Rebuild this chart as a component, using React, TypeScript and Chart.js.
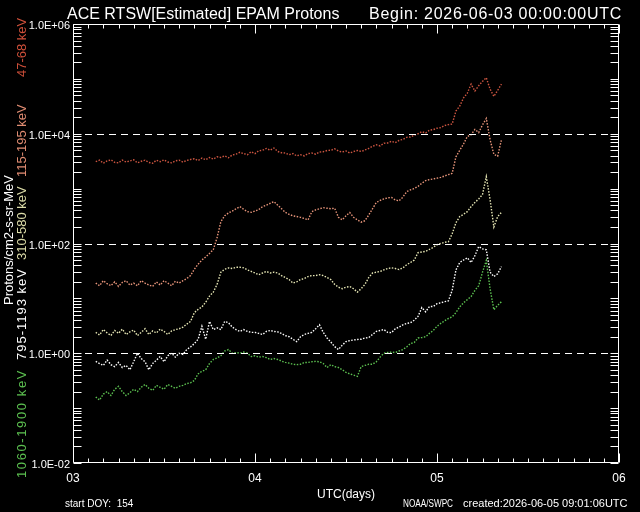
import React, { useEffect, useRef } from "react";
import { Chart, registerables } from "chart.js";

Chart.register(...registerables);

// Time axis: hours since 2026-06-03 00:00 UTC
const hours = [
  3, 3.5, 4, 4.5, 5, 5.5, 6, 6.5, 7, 7.5, 8, 8.5, 9, 9.5, 10, 10.5, 11, 11.5, 12, 12.5, 13, 13.5,
  14, 14.5, 15, 15.5, 16, 16.5, 17, 17.5, 18, 18.5, 19, 19.5, 20, 20.5, 21, 21.5, 22, 22.5,
  23, 23.5, 24, 24.5, 25, 25.5, 26, 26.5, 27, 27.5, 28, 28.5, 29, 29.5, 30, 30.5,
  31, 31.5, 32, 32.5, 33, 33.5, 34, 34.5, 35, 35.5, 36, 36.5, 37, 37.5, 38, 38.5, 39, 39.5,
  40, 40.5, 41, 41.5, 42, 42.5, 43, 43.5, 44, 44.5, 45, 45.5, 46, 46.5, 47, 47.5, 48, 48.5, 49, 49.5,
  50, 50.5, 51, 51.5, 52, 52.5, 53, 53.5, 54, 54.5, 55, 55.5, 56, 56.5,
];

const p47_68 = [
  3100, 3300, 2900, 3200, 3350, 3000, 2950, 3300, 3050, 3200, 3350, 2950, 3150, 3300, 3000, 2900, 3300, 3100, 3350, 3050, 2950, 3200,
  3300, 3050, 3250, 3400,
  3500, 3250, 3600, 3350, 3700, 3450, 3800, 3700,
  3950, 3650, 4100, 4250, 4600, 4350,
  4150, 4700, 4350, 4900, 5000, 5400,
  5000, 5500, 4750, 4500,
  4450, 4150, 4350, 3950, 4150, 3950,
  4350, 4450, 4250, 4650, 4700, 4950,
  5000, 5300, 4850, 4650, 4850, 4450,
  4750, 4950, 4750, 5050, 5400, 5900,
  6300, 6000, 6700, 6800, 7300, 6900,
  7600, 7900, 8600, 8700, 9400, 10000,
  10900, 10300, 11600, 11900, 12600, 12900, 14100, 14700,
  15000, 26000, 32000, 45000, 55000, 80000, 60000, 75000, 90000, 105000, 65000, 48000, 62000, 80000,
];

const p115_195 = [
  19, 17, 21, 18.5, 17, 20, 16.5, 19.5, 21, 17.5, 19, 17, 21, 19, 17.5, 16.5, 20, 17.5, 21, 19, 17, 20.5,
  19, 21, 23, 26,
  34, 42, 50, 57, 66, 77, 128, 250,
  320, 360, 390, 430, 470, 420,
  380, 370, 390, 415, 470, 500,
  540, 580, 500, 430,
  370, 340, 320, 310, 300, 285,
  270, 380, 410, 430, 450, 440,
  430, 440, 300, 270, 320, 366,
  300, 270, 245, 260, 330, 430,
  560, 610, 650, 680, 690, 620,
  600, 700, 880, 950, 1000, 1100,
  1250, 1400, 1460, 1500, 1550, 1600, 1700, 1800,
  1900, 3800, 5000, 6500, 8900, 9600, 12000, 10500, 14500, 19000, 7800, 4200, 3900, 7800,
];

const p310_580 = [
  2.4, 2.15, 2.7, 2.35, 2.1, 2.6, 2.3, 2.75, 2.2, 2.45, 2.65, 2.1, 2.4, 2.8, 2.2, 2.55, 2.35, 2.75, 2.5, 2.2, 2.55, 2.7,
  2.8, 3.0, 3.4, 3.8,
  5.5, 6.3, 7.0, 8.5, 11, 13, 18, 30,
  34, 36, 35, 37, 37, 36,
  33, 31, 29, 27, 29, 31,
  29, 30, 29, 26,
  24, 22, 19, 20, 22, 23,
  25, 26, 26, 27, 26, 24,
  22, 18, 16, 15, 16, 16.5,
  15, 13, 15, 18, 24, 29,
  30, 31, 33, 35, 36, 35,
  33.5, 36, 41, 45, 50, 68,
  70, 72, 78, 85, 95, 100, 105, 108,
  150, 240, 310, 340, 380, 470, 560, 650, 780, 1650, 630, 200, 310, 370,
];

const p795_1193 = [
  0.71, 0.65, 0.6, 0.75, 0.62, 0.57, 0.68, 0.55, 0.6, 0.5, 0.7, 1.0, 0.8, 0.7, 0.5, 0.65, 0.75, 0.87, 0.7, 0.9, 1.0, 0.85,
  1.0, 0.95, 1.17, 1.3,
  1.5, 1.8, 3.1, 1.8, 3.8, 2.7, 2.9, 2.7,
  3.8, 3.6, 3.0, 2.7, 2.5, 2.7,
  2.5, 2.4, 2.4, 2.3, 2.2, 2.5,
  2.6, 2.5, 2.45, 2.3,
  2.1, 2.0, 1.8, 1.63, 2.0, 2.2,
  2.3, 2.4, 2.8, 3.3, 2.4, 1.9,
  1.6, 1.32, 1.17, 1.4, 1.63, 1.7,
  1.75, 1.78, 1.8, 1.9, 1.93, 2.2,
  2.5, 2.6, 2.7, 2.4, 2.37, 2.8,
  3.0, 3.3, 3.5, 3.6, 4.0, 4.7,
  6.8, 5.7, 7.1, 7.1, 8.0, 8.3, 8.7, 9.0,
  14, 33, 45, 50, 55, 45, 60, 88, 80, 77, 30, 25, 28, 38,
];

const p1060_1900 = [
  0.16, 0.14, 0.18, 0.2, 0.17, 0.22, 0.25, 0.2, 0.17, 0.19, 0.22, 0.2, 0.24, 0.27, 0.23, 0.21, 0.26, 0.24, 0.22, 0.27, 0.25, 0.23,
  0.25, 0.26, 0.28, 0.29,
  0.32, 0.42, 0.47, 0.5, 0.65, 0.77, 0.82, 0.9,
  1.1, 1.17, 1.0, 1.03, 1.0, 1.05,
  1.0, 0.87, 0.9, 0.85, 0.87, 0.83,
  0.77, 0.8, 0.77, 0.72,
  0.68, 0.66, 0.63, 0.62, 0.63, 0.68,
  0.68, 0.7, 0.71, 0.7, 0.65, 0.55,
  0.62, 0.57, 0.55, 0.5, 0.45, 0.42,
  0.4, 0.38, 0.57, 0.6, 0.63, 0.63,
  0.7, 0.85, 1.0, 1.03, 1.05, 1.03,
  1.1, 1.17, 1.3, 1.5, 1.57, 1.9,
  1.93, 2.0, 2.3, 2.6, 3.1, 3.5, 3.9, 4.3,
  4.6, 5.5, 7.0, 8.3, 9.5, 10.8, 14, 17, 30, 49, 15, 6.2, 7.5, 8.7,
];

const seriesLabels = ["47-68 keV", "115-195 keV", "310-580 keV", "795-1193 keV", "1060-1900 keV"];
const seriesValues = [p47_68, p115_195, p310_580, p795_1193, p1060_1900];
const seriesColors = ["#cc5540", "#e8957a", "#e6e6b4", "#ffffff", "#5cc050"];
const labelColors = ["#d0503a", "#e08c72", "#dcdca8", "#ffffff", "#5cc050"];

const xTickValues = [0, 24, 48, 72];
const xTickLabels = ["03", "04", "05", "06"];
const yTickValues = [1e-2, 1e0, 1e2, 1e4, 1e6];
const yTickLabels = ["1.0E-02", "1.0E+00", "1.0E+02", "1.0E+04", "1.0E+06"];
const dashedLevels = [1e0, 1e2, 1e4];

const titleLeft = "ACE RTSW[Estimated] EPAM Protons";
const titleRight = "Begin: 2026-06-03 00:00:00UTC";
const yAxisTitle = "Protons/cm2-s-sr-MeV";
const footLeft = "start DOY:  154";
const footMid = "NOAA/SWPC";
const footRight = "created:2026-06-05 09:01:06UTC";

const FONT = "'Liberation Sans', Arial, sans-serif";

const decorPlugin = {
  id: "decor",
  afterDatasetsDraw(chart: any) {
    const { ctx, chartArea: a, scales } = chart;
    const xs = scales.x;
    const ys = scales.y;
    ctx.save();
    ctx.strokeStyle = "#ffffff";
    ctx.lineWidth = 1;
    // dashed reference lines
    ctx.setLineDash([7, 5]);
    for (const v of dashedLevels) {
      const py = Math.round(ys.getPixelForValue(v)) + 0.5;
      ctx.beginPath();
      ctx.moveTo(a.left, py);
      ctx.lineTo(a.right - 4, py);
      ctx.stroke();
    }
    ctx.setLineDash([]);
    // frame
    const L = Math.round(a.left) + 0.5;
    const R = Math.round(a.right) - 0.5;
    const T = Math.round(a.top) + 0.5;
    const B = Math.round(a.bottom) - 0.5;
    ctx.beginPath();
    ctx.rect(L, T, R - L, B - T);
    ctx.stroke();
    // x ticks (every 2 h, major each day)
    ctx.beginPath();
    for (let h = 0; h <= 72; h += 2) {
      const px = Math.round(xs.getPixelForValue(h)) + 0.5;
      const len = h % 24 === 0 ? 9 : 4;
      ctx.moveTo(px, B);
      ctx.lineTo(px, B - len);
      ctx.moveTo(px, T);
      ctx.lineTo(px, T + len);
    }
    // y ticks (log minor)
    for (let e = -2; e <= 6; e++) {
      for (let m = 1; m <= 9; m++) {
        const v = m * Math.pow(10, e);
        if (v > 1e6 * 1.0001) break;
        const py = Math.round(ys.getPixelForValue(v)) + 0.5;
        ctx.moveTo(L, py);
        ctx.lineTo(L + 8, py);
        ctx.moveTo(R, py);
        ctx.lineTo(R - 8, py);
      }
    }
    ctx.stroke();
    ctx.restore();
  },
  afterDraw(chart: any) {
    const { ctx } = chart;
    ctx.save();
    ctx.fillStyle = "#ffffff";
    ctx.textBaseline = "alphabetic";
    ctx.textAlign = "left";
    ctx.font = `16px ${FONT}`;
    ctx.fillText(titleLeft, 67, 19);
    (ctx as any).letterSpacing = "0.75px";
    ctx.fillText(titleRight, 369, 19);
    (ctx as any).letterSpacing = "0px";
    // footer
    ctx.font = `10px ${FONT}`;
    ctx.textBaseline = "middle";
    ctx.fillText(footLeft, 65, 504);
    ctx.fillText(footMid, 403, 504, 50);
    ctx.font = `11px ${FONT}`;
    ctx.fillText(footRight, 463, 504);
    // rotated y labels
    ctx.save();
    ctx.translate(9, 305);
    ctx.rotate(-Math.PI / 2);
    ctx.font = `13px ${FONT}`;
    ctx.textBaseline = "middle";
    ctx.fillStyle = "#ffffff";
    ctx.fillText(yAxisTitle, 0, 0);
    ctx.restore();
    const starts = [77, 177, 260, 360, 478];
    const spacing = [0, 0, 0, 1, 1.6];
    for (let i = 0; i < seriesLabels.length; i++) {
      ctx.save();
      ctx.translate(22, starts[i]);
      ctx.rotate(-Math.PI / 2);
      ctx.font = `13px ${FONT}`;
      (ctx as any).letterSpacing = `${spacing[i]}px`;
      ctx.textBaseline = "middle";
      ctx.fillStyle = labelColors[i];
      ctx.fillText(seriesLabels[i], 0, 0);
      ctx.restore();
    }
    ctx.restore();
  },
};

export default function App() {
  const ref = useRef<HTMLCanvasElement | null>(null);
  useEffect(() => {
    document.body.style.margin = "0";
    document.body.style.background = "#000";
    const canvas = ref.current;
    if (!canvas) return;
    const chart = new Chart(canvas, {
      type: "line",
      data: {
        datasets: seriesValues.map((vals, i) => ({
          label: seriesLabels[i],
          data: hours.map((h, j) => ({ x: h, y: vals[j] })),
          borderColor: seriesColors[i],
          backgroundColor: seriesColors[i],
          borderWidth: 1.4,
          borderDash: [1.5, 1.5],
          pointRadius: 0,
          tension: 0,
          fill: false,
        })),
      },
      options: {
        animation: false,
        responsive: false,
        maintainAspectRatio: false,
        devicePixelRatio: 1,
        events: [],
        layout: { padding: { top: 24, right: 21, left: 0, bottom: 0 } },
        plugins: { legend: { display: false }, tooltip: { enabled: false }, title: { display: false } },
        scales: {
          x: {
            type: "linear",
            min: 0,
            max: 72,
            afterBuildTicks: (s: any) => {
              s.ticks = xTickValues.map((v) => ({ value: v }));
            },
            afterFit: (s: any) => {
              s.height = 49;
            },
            ticks: {
              autoSkip: false,
              maxRotation: 0,
              color: "#ffffff",
              padding: 8,
              font: { family: FONT, size: 12 },
              callback: (v: any) => xTickLabels[xTickValues.indexOf(Number(v))] ?? "",
            },
            grid: { display: false, drawTicks: false },
            border: { display: false },
            title: {
              display: true,
              text: "UTC(days)",
              color: "#ffffff",
              font: { family: FONT, size: 12 },
              padding: { top: 0, bottom: 10 },
            },
          },
          y: {
            type: "logarithmic",
            min: 1e-2,
            max: 1e6,
            afterBuildTicks: (s: any) => {
              s.ticks = yTickValues.map((v) => ({ value: v }));
            },
            afterFit: (s: any) => {
              s.width = 73;
            },
            ticks: {
              autoSkip: false,
              color: "#ffffff",
              padding: 3,
              labelOffset: 2,
              font: { family: FONT, size: 11 },
              callback: (v: any) => {
                const idx = yTickValues.findIndex((t) => Math.abs(Math.log10(t) - Math.log10(Number(v))) < 1e-6);
                return idx >= 0 ? yTickLabels[idx] : "";
              },
            },
            grid: { display: false, drawTicks: false },
            border: { display: false },
          },
        },
      },
      plugins: [decorPlugin],
    });
    return () => chart.destroy();
  }, []);
  return (
    <div style={{ width: 640, height: 512, background: "#000" }}>
      <canvas ref={ref} width={640} height={512} style={{ display: "block" }} />
    </div>
  );
}
